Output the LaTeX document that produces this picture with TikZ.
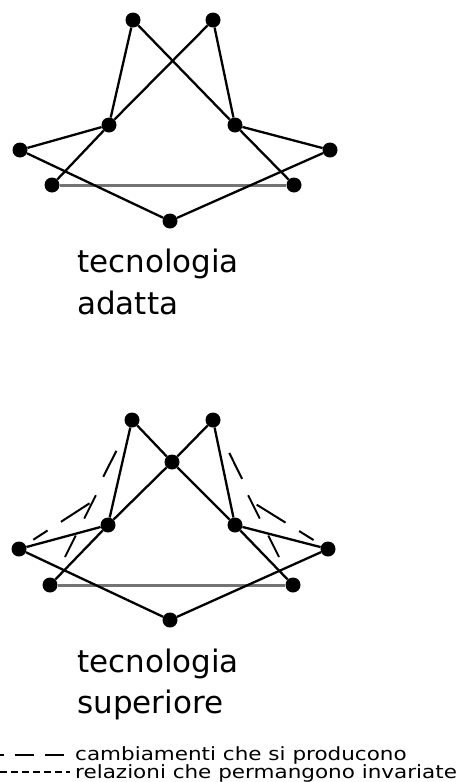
\documentclass[tikz,border=0pt]{standalone}
\usepackage{fontspec}
\setmainfont{DejaVu Sans}
\begin{document}
\begin{tikzpicture}[x=1pt,y=-1pt,
  dot/.style={circle,fill=black,inner sep=0pt,minimum size=15pt},
  edge/.style={line width=2.3pt},
  basee/.style={line width=3pt,black!55},
  chg/.style={line width=2pt,dash pattern=on 17pt off 16pt on 34pt off 30pt on 29pt off 50pt,dash phase=159pt},
  chgb/.style={line width=2pt,dash pattern=on 24pt off 19pt on 26pt off 40pt},
  lbl/.style={anchor=base west,inner sep=0pt,font=\fontsize{31}{42}\selectfont},
  leg/.style={anchor=base west,inner sep=0pt,font=\fontsize{21.5}{16}\selectfont},
  legA/.style={line width=1.6pt,dash pattern=on 19pt off 11pt,dash phase=15pt},
  legB/.style={line width=1.4pt,dash pattern=on 7pt off 4pt}]
\useasboundingbox (0,0) rectangle (462,782);

% ---------- top graph ----------
\node[dot] (tA) at (133,20) {};
\node[dot] (tB) at (213,20) {};
\node[dot] (tC) at (109,125) {};
\node[dot] (tD) at (235,125) {};
\node[dot] (tE) at (20,150) {};
\node[dot] (tF) at (330,150) {};
\node[dot] (tG) at (52,185) {};
\node[dot] (tH) at (294,185) {};
\node[dot] (tI) at (170,221) {};
\draw[basee] (tG) -- (tH);
\draw[edge] (tA) -- (tC);
\draw[edge] (tA) -- (tD);
\draw[edge] (tB) -- (tC);
\draw[edge] (tB) -- (tD);
\draw[edge] (tC) -- (tE);
\draw[edge] (tC) -- (tG);
\draw[edge] (tD) -- (tF);
\draw[edge] (tD) -- (tH);
\draw[edge] (tE) -- (tI);
\draw[edge] (tF) -- (tI);

\node[lbl] (t1) at (77,272) {tecnologia};
\node[lbl] (t2) at (77,314) {adatta};

% ---------- bottom graph ----------
\node[dot] (bA) at (132,420) {};
\node[dot] (bB) at (213,420) {};
\node[dot] (bX) at (172,462) {};
\node[dot] (bC) at (108,525) {};
\node[dot] (bD) at (235,525) {};
\node[dot] (bE) at (19,549) {};
\node[dot] (bF) at (328,549) {};
\node[dot] (bG) at (50,585) {};
\node[dot] (bH) at (293,585) {};
\node[dot] (bI) at (170,620) {};
\draw[basee] (bG) -- (bH);
\draw[edge] (bA) -- (bX);
\draw[edge] (bX) -- (bD);
\draw[edge] (bB) -- (bX);
\draw[edge] (bX) -- (bC);
\draw[edge] (bA) -- (bC);
\draw[edge] (bB) -- (bD);
\draw[edge] (bC) -- (bE);
\draw[edge] (bC) -- (bG);
\draw[edge] (bD) -- (bF);
\draw[edge] (bD) -- (bH);
\draw[edge] (bE) -- (bI);
\draw[edge] (bF) -- (bI);

% changes (dashed)
\coordinate (xl) at (90,503);
\coordinate (xr) at (254,503);
\coordinate (l2s) at (65,557);
\coordinate (l2e) at (99,489);
\coordinate (r2s) at (279,557);
\coordinate (r2e) at (245,489);
\draw[chg] (bE.center) -- (xl) -- (bA.center);
\draw[chg] (bF.center) -- (xr) -- (bB.center);
\draw[chgb] (l2s) -- (l2e);
\draw[chgb] (r2s) -- (r2e);

\node[lbl] (s1) at (77,672) {tecnologia};
\node[lbl] (s2) at (77,713) {superiore};

% ---------- legend ----------
\coordinate (la) at (0,755);
\coordinate (lb) at (68,755);
\coordinate (lc) at (0,772);
\coordinate (ld) at (70,772);
\draw[legA] (la) -- (lb);
\draw[legB] (lc) -- (ld);
\node[leg] (g1) at (75,760) {\scalebox{1}[0.85]{cambiamenti che si producono}};
\node[leg] (g2) at (75,778) {\scalebox{1}[0.85]{relazioni che permangono invariate}};
\end{tikzpicture}
\end{document}
